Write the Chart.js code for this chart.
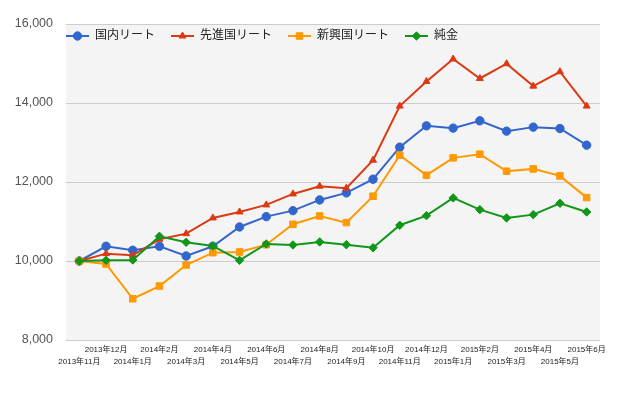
<!DOCTYPE html>
<html>
<head>
<meta charset="utf-8">
<script src="https://cdn.jsdelivr.net/npm/chart.js@4/dist/chart.umd.min.js"></script>
<style>
  body { margin: 0; background: #fff; }
  #wrap { width: 640px; height: 395px; }
</style>
</head>
<body>
<div id="wrap"><canvas id="chart" width="640" height="395"></canvas></div>
<script>
const FONT = '"Liberation Sans", Arial, "Noto Sans CJK JP", sans-serif';

const months = [
  "2013年11月", "2013年12月", "2014年1月", "2014年2月", "2014年3月",
  "2014年4月", "2014年5月", "2014年6月", "2014年7月", "2014年8月",
  "2014年9月", "2014年10月", "2014年11月", "2014年12月", "2015年1月",
  "2015年2月", "2015年3月", "2015年4月", "2015年5月", "2015年6月"
];

const domesticReit = [10000, 10373, 10271, 10373, 10127, 10373, 10862, 11123, 11275, 11546,
  11724, 12071, 12882, 13422, 13364, 13549, 13288, 13389, 13354, 12933];
const developedReit = [10000, 10186, 10144, 10550, 10692, 11090, 11242, 11420, 11698, 11894,
  11843, 12553, 13922, 14545, 15113, 14621, 14994, 14427, 14791, 13922];
const emergingReit = [10000, 9924, 9044, 9366, 9899, 10211, 10228, 10413, 10930, 11141,
  10972, 11640, 12679, 12172, 12611, 12704, 12273, 12332, 12155, 11605];
const gold = [10000, 10017, 10025, 10626, 10474, 10380, 10017, 10431, 10406, 10482,
  10413, 10337, 10905, 11148, 11597, 11301, 11090, 11174, 11462, 11242];

const seriesNames = ["国内リート", "先進国リート", "新興国リート", "純金"];

// gray plot background
const plotBg = {
  id: 'plotBg',
  beforeDraw(chart) {
    const { ctx, chartArea: a } = chart;
    ctx.save();
    ctx.fillStyle = '#f4f4f4';
    ctx.fillRect(a.left, a.top, a.right - a.left, a.bottom - a.top);
    ctx.restore();
  }
};

// legend inside the plot, line + marker like the original
const inlineLegend = {
  id: 'inlineLegend',
  afterDraw(chart) {
    const ctx = chart.ctx;
    let x = chart.chartArea.left;
    const y = 36;
    ctx.save();
    ctx.font = '12px ' + FONT;
    ctx.textBaseline = 'middle';
    chart.data.datasets.forEach(ds => {
      ctx.strokeStyle = ds.borderColor;
      ctx.lineWidth = 2;
      ctx.beginPath();
      ctx.moveTo(x, y);
      ctx.lineTo(x + 23, y);
      ctx.stroke();
      ctx.fillStyle = ds.borderColor;
      ctx.lineWidth = 1;
      Chart.helpers.drawPoint(ctx, { pointStyle: ds.pointStyle, radius: ds.pointRadius, borderWidth: 1 }, x + 11.5, y);
      ctx.fillStyle = '#222';
      ctx.fillText(ds.label, x + 29, y);
      x += 29 + ctx.measureText(ds.label).width + 16;
    });
    ctx.restore();
  }
};

const ctx = document.getElementById("chart").getContext("2d");
new Chart(ctx, {
  type: "line",
  data: {
    labels: months,
    datasets: [
      { label: seriesNames[0], data: domesticReit, borderColor: "#3366cc", backgroundColor: "#3366cc",
        pointStyle: "circle", pointRadius: 4.2, order: 4 },
      { label: seriesNames[1], data: developedReit, borderColor: "#dc3912", backgroundColor: "#dc3912",
        pointStyle: "triangle", pointRadius: 4, order: 3 },
      { label: seriesNames[2], data: emergingReit, borderColor: "#ff9900", backgroundColor: "#ff9900",
        pointStyle: "rect", pointRadius: 4.6, order: 2 },
      { label: seriesNames[3], data: gold, borderColor: "#109618", backgroundColor: "#109618",
        pointStyle: "rectRot", pointRadius: 4.2, order: 1 }
    ].map(ds => Object.assign(ds, {
      borderWidth: 2,
      pointBorderWidth: 1,
      pointHoverRadius: ds.pointRadius,
      tension: 0,
      fill: false
    }))
  },
  options: {
    responsive: false,
    animation: false,
    layout: { padding: { top: 24, right: 40, left: 0, bottom: 0 } },
    plugins: {
      legend: { display: false },
      tooltip: { enabled: false }
    },
    scales: {
      x: {
        offset: true,
        grid: { display: false, drawTicks: false },
        border: { display: false },
        ticks: {
          autoSkip: false,
          maxRotation: 0,
          minRotation: 0,
          padding: 4,
          color: '#222',
          font: { family: FONT, size: 8, lineHeight: 1.5 },
          callback: (v, i) => i % 2 ? [months[i]] : ['', months[i]]
        },
        afterFit(scale) { scale.height = 55; }
      },
      y: {
        min: 8000,
        max: 16000,
        grid: { color: '#cccccc', drawTicks: false },
        border: { display: false },
        ticks: {
          stepSize: 2000,
          padding: 13,
          color: '#555',
          font: { family: FONT, size: 12.5 },
          callback: v => v.toLocaleString('en-US')
        },
        afterFit(scale) { scale.width = 66; }
      }
    }
  },
  plugins: [plotBg, inlineLegend]
});
</script>
</body>
</html>
